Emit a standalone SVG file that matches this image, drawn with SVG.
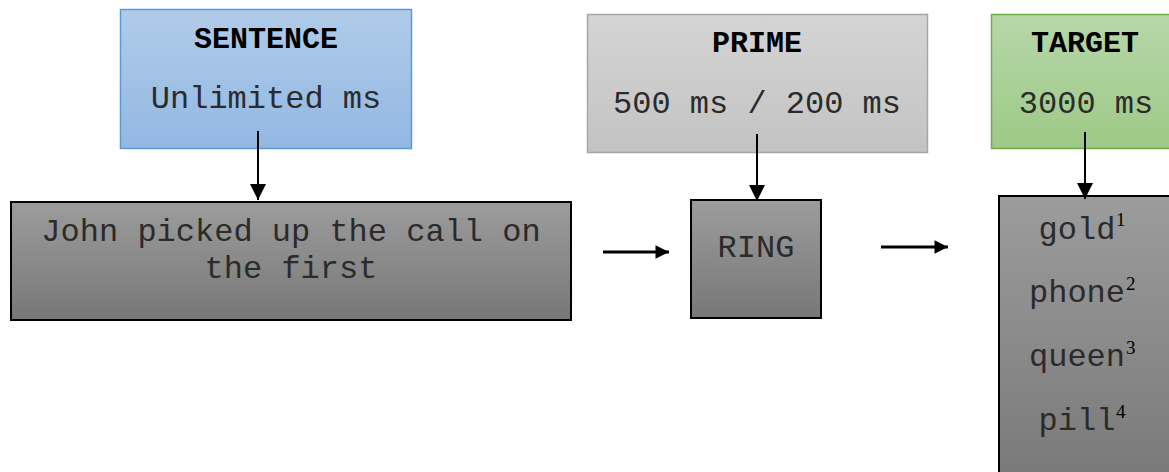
<svg xmlns="http://www.w3.org/2000/svg" width="1169" height="472" viewBox="0 0 1169 472">
  <defs>
    <linearGradient id="gBlue" x1="0" y1="0" x2="0" y2="1">
      <stop offset="0" stop-color="#b1cbe9"/>
      <stop offset="1" stop-color="#92b8e3"/>
    </linearGradient>
    <linearGradient id="gGrey" x1="0" y1="0" x2="0" y2="1">
      <stop offset="0" stop-color="#d4d4d4"/>
      <stop offset="1" stop-color="#c3c3c3"/>
    </linearGradient>
    <linearGradient id="gGreen" x1="0" y1="0" x2="0" y2="1">
      <stop offset="0" stop-color="#b7d7a9"/>
      <stop offset="1" stop-color="#9dc986"/>
    </linearGradient>
    <linearGradient id="gDark" x1="0" y1="0" x2="0" y2="1">
      <stop offset="0" stop-color="#9c9c9c"/>
      <stop offset="1" stop-color="#777777"/>
    </linearGradient>
    <linearGradient id="gDarkTall" gradientUnits="userSpaceOnUse" x1="0" y1="196" x2="0" y2="472">
      <stop offset="0" stop-color="#9c9c9c"/>
      <stop offset="1" stop-color="#7a7a7a"/>
    </linearGradient>
    <marker id="head" viewBox="0 0 10 10" refX="10" refY="5" markerWidth="5" markerHeight="4.5" orient="auto" markerUnits="strokeWidth">
      <path d="M0,0 L10,5 L0,10 Z" fill="#000"/>
    </marker>
    <marker id="headThin" viewBox="0 0 10 10" refX="10" refY="5" markerWidth="8" markerHeight="8" orient="auto" markerUnits="strokeWidth">
      <path d="M0,0 L10,5 L0,10 Z" fill="#000"/>
    </marker>
  </defs>
  <style>
    text { font-family: "Courier New", "Liberation Mono", monospace; fill: #2b2b2b; text-anchor: middle; }
    .title { font-weight: bold; font-size: 30px; fill: #000; }
    .body { font-size: 32px; }
    .sup { font-family: "Liberation Serif", "Times New Roman", serif; font-size: 19px; text-anchor: start; fill: #000; }
    .dark { stroke: #000; stroke-width: 2; }
    .conn line { stroke: #000; }
  </style>

  <g id="sentence">
    <rect x="120.5" y="9.5" width="291" height="139" fill="url(#gBlue)" stroke="#5b9bd5" stroke-width="1.5"/>
    <text class="title" x="266" y="48">SENTENCE</text>
    <text class="body" x="266" y="108">Unlimited ms</text>
  </g>

  <g id="prime">
    <rect x="587.5" y="14.5" width="340" height="138" fill="url(#gGrey)" stroke="#a6a6a6" stroke-width="1.5"/>
    <text class="title" x="757" y="52">PRIME</text>
    <text class="body" x="757" y="113">500 ms / 200 ms</text>
  </g>

  <g id="target">
    <rect x="991.5" y="14.5" width="190" height="134" fill="url(#gGreen)" stroke="#70ad47" stroke-width="1.5"/>
    <text class="title" x="1085" y="52">TARGET</text>
    <text class="body" x="1086" y="113">3000 ms</text>
  </g>

  <g id="sentence-text">
    <rect class="dark" x="11" y="202" width="560" height="118" fill="url(#gDark)"/>
    <text class="body" x="291" y="241">John picked up the call on</text>
    <text class="body" x="291" y="278">the first</text>
  </g>

  <g id="ring">
    <rect class="dark" x="691" y="200" width="130" height="118" fill="url(#gDark)"/>
    <text class="body" x="756" y="257">RING</text>
  </g>

  <g id="words">
    <rect class="dark" x="999" y="196" width="180" height="290" fill="url(#gDarkTall)"/>
    <text class="body" x="1077" y="239">gold</text>
    <text class="sup" x="1116" y="226">1</text>
    <text class="body" x="1077" y="302">phone</text>
    <text class="sup" x="1126" y="290">2</text>
    <text class="body" x="1077" y="366">queen</text>
    <text class="sup" x="1126" y="354">3</text>
    <text class="body" x="1077" y="430">pill</text>
    <text class="sup" x="1116" y="418">4</text>
  </g>

  <g id="connectors" class="conn">
    <line x1="258" y1="131" x2="258" y2="200" stroke-width="2" marker-end="url(#headThin)"/>
    <line x1="757" y1="134" x2="757" y2="201" stroke-width="2" marker-end="url(#headThin)"/>
    <line x1="1085" y1="132" x2="1085" y2="199" stroke-width="2" marker-end="url(#headThin)"/>
    <line x1="603" y1="252" x2="669" y2="252" stroke-width="3" marker-end="url(#head)"/>
    <line x1="881" y1="247" x2="948" y2="247" stroke-width="3" marker-end="url(#head)"/>
  </g>
</svg>
